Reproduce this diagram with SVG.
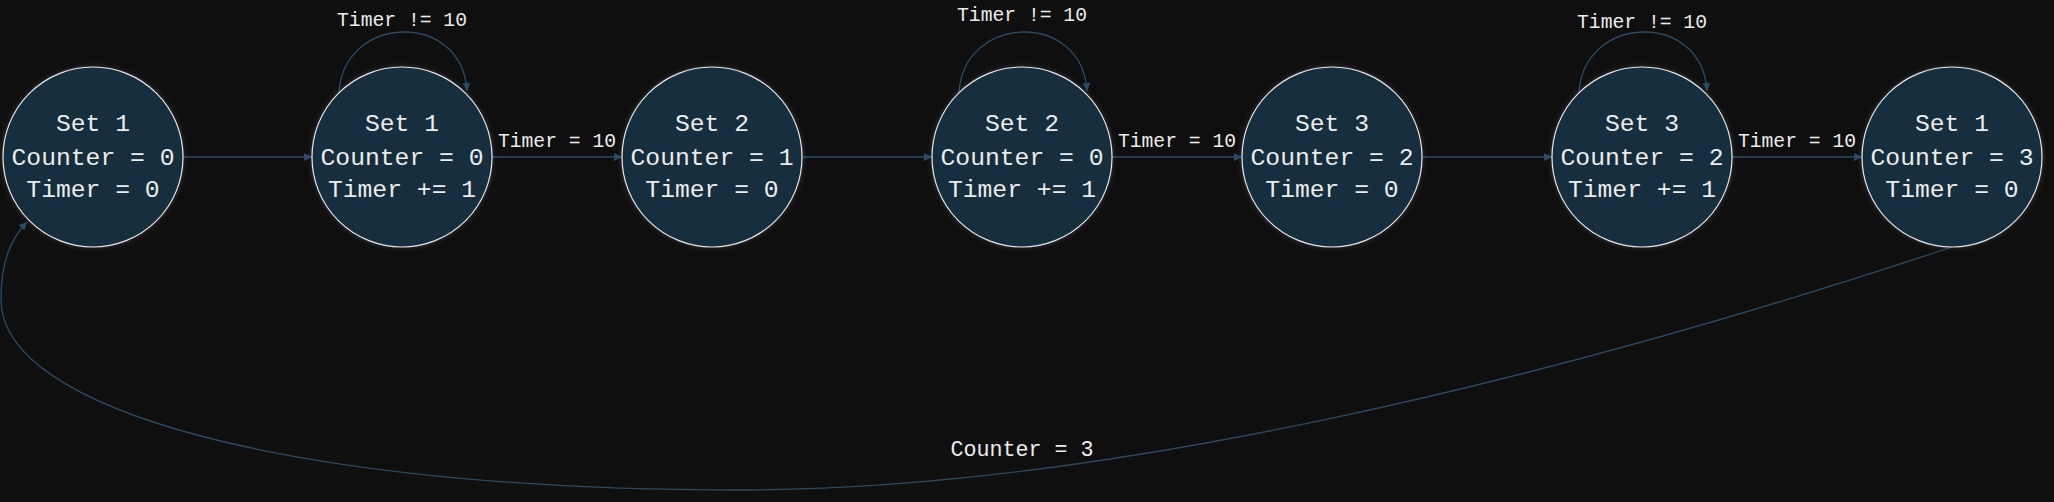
<svg xmlns="http://www.w3.org/2000/svg" width="2054" height="502" viewBox="0 0 2054 502">
<style>
.node circle{fill:#172d3e;stroke:#e6e6e6;stroke-width:1.2;filter:url(#glow)}
.node text{font-family:"Liberation Mono","DejaVu Sans Mono",monospace;font-size:24.7px;fill:#ececec;text-anchor:middle}
.edge{fill:none;stroke:#2c4a64;stroke-width:1.3}
.lbl{font-family:"Liberation Mono","DejaVu Sans Mono",monospace;font-size:19.7px;fill:#ececec;text-anchor:middle}
</style>
<defs>
<filter id="glow" x="-20%" y="-20%" width="140%" height="140%">
<feDropShadow dx="0" dy="0" stdDeviation="2.5" flood-color="#b0b0d0" flood-opacity="0.25"/>
</filter>
<marker id="arr" viewBox="0 0 10 10" refX="10" refY="5" markerWidth="9" markerHeight="8" markerUnits="userSpaceOnUse" orient="auto">
<path d="M0,0 L10,5 L0,10 z" fill="#2c4a64"/>
</marker>
</defs>
<rect x="0" y="0" width="2054" height="502" fill="#0f0f10"/>
<g id="connectors">
<path class="edge" d="M183 157 L312 157" marker-end="url(#arr)"/>
<path class="edge" d="M492 157 L622 157" marker-end="url(#arr)"/>
<path class="edge" d="M802 157 L932 157" marker-end="url(#arr)"/>
<path class="edge" d="M1112 157 L1242 157" marker-end="url(#arr)"/>
<path class="edge" d="M1422 157 L1552 157" marker-end="url(#arr)"/>
<path class="edge" d="M1732 157 L1862 157" marker-end="url(#arr)"/>
<path class="edge" d="M339 93 C343 14, 462 10, 467 91" marker-end="url(#arr)"/>
<path class="edge" d="M959 93 C963 14, 1082 10, 1087 91" marker-end="url(#arr)"/>
<path class="edge" d="M1579 93 C1583 14, 1702 10, 1707 91" marker-end="url(#arr)"/>
<path class="edge" d="M1952 247 C1552 380, 1100 490, 740 490 C290 490, 1 410, 1 300 C1 262, 10 240, 27 222" marker-end="url(#arr)"/>
<text class="lbl" x="402" y="26">Timer != 10</text>
<text class="lbl" x="1022" y="21">Timer != 10</text>
<text class="lbl" x="1642" y="28">Timer != 10</text>
<text class="lbl" x="557" y="147">Timer = 10</text>
<text class="lbl" x="1177" y="147">Timer = 10</text>
<text class="lbl" x="1797" y="147">Timer = 10</text>
<text class="lbl" x="1022" y="456" style="font-size:21.7px">Counter = 3</text>
</g>
<g id="n1" class="node"><circle cx="93" cy="157" r="90"/><text x="93" y="131">Set 1</text><text x="93" y="165">Counter = 0</text><text x="93" y="197">Timer = 0</text></g>
<g id="n2" class="node"><circle cx="402" cy="157" r="90"/><text x="402" y="131">Set 1</text><text x="402" y="165">Counter = 0</text><text x="402" y="197">Timer += 1</text></g>
<g id="n3" class="node"><circle cx="712" cy="157" r="90"/><text x="712" y="131">Set 2</text><text x="712" y="165">Counter = 1</text><text x="712" y="197">Timer = 0</text></g>
<g id="n4" class="node"><circle cx="1022" cy="157" r="90"/><text x="1022" y="131">Set 2</text><text x="1022" y="165">Counter = 0</text><text x="1022" y="197">Timer += 1</text></g>
<g id="n5" class="node"><circle cx="1332" cy="157" r="90"/><text x="1332" y="131">Set 3</text><text x="1332" y="165">Counter = 2</text><text x="1332" y="197">Timer = 0</text></g>
<g id="n6" class="node"><circle cx="1642" cy="157" r="90"/><text x="1642" y="131">Set 3</text><text x="1642" y="165">Counter = 2</text><text x="1642" y="197">Timer += 1</text></g>
<g id="n7" class="node"><circle cx="1952" cy="157" r="90"/><text x="1952" y="131">Set 1</text><text x="1952" y="165">Counter = 3</text><text x="1952" y="197">Timer = 0</text></g>
</svg>
